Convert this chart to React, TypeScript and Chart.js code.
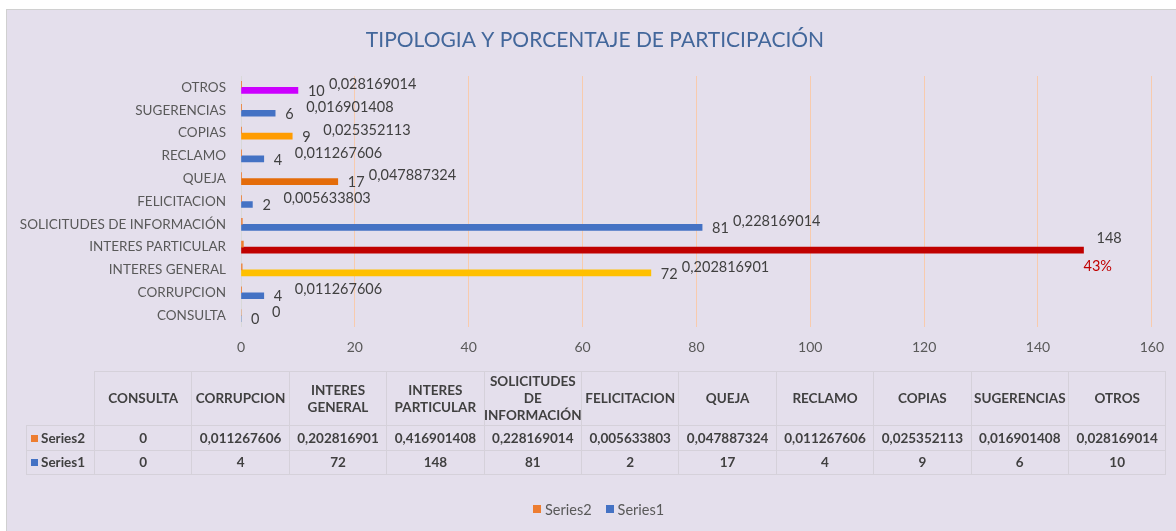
import React, { useEffect, useRef } from 'react';
import { Chart, registerables } from 'chart.js';

Chart.register(...registerables);

const chartTitle = 'TIPOLOGIA Y PORCENTAJE DE PARTICIPACIÓN';
const categories = [
  'CONSULTA',
  'CORRUPCION',
  'INTERES GENERAL',
  'INTERES PARTICULAR',
  'SOLICITUDES DE INFORMACIÓN',
  'FELICITACION',
  'QUEJA',
  'RECLAMO',
  'COPIAS',
  'SUGERENCIAS',
  'OTROS',
];
const tableHeaders = [
  ['CONSULTA'],
  ['CORRUPCION'],
  ['INTERES', 'GENERAL'],
  ['INTERES', 'PARTICULAR'],
  ['SOLICITUDES', 'DE', 'INFORMACIÓN'],
  ['FELICITACION'],
  ['QUEJA'],
  ['RECLAMO'],
  ['COPIAS'],
  ['SUGERENCIAS'],
  ['OTROS'],
];
const series1Name = 'Series1';
const series2Name = 'Series2';
const series1 = [0, 4, 72, 148, 81, 2, 17, 4, 9, 6, 10];
const series2 = [
  0, 0.011267606, 0.202816901, 0.416901408, 0.228169014, 0.005633803,
  0.047887324, 0.011267606, 0.025352113, 0.016901408, 0.028169014,
];
const xMin = 0;
const xMax = 160;
const xStep = 20;
const highlightIndex = 3;
const highlightText = '43%';

const BLUE = '#4472C4';
const ORANGE = '#ED7D31';
const series1Colors = [
  BLUE, BLUE, '#FFC000', '#C00000', BLUE, BLUE, '#E46C0A', BLUE, '#FF9C00', BLUE, '#CC00FF',
];

const FONT = 'Lato, "Open Sans", sans-serif';
const fmt = (v: number) => String(v).replace('.', ',');

const labelsPlugin = {
  id: 'customLabels',
  afterDraw(chart: any) {
    const ctx = chart.ctx;
    const m0 = chart.getDatasetMeta(0);
    const m1 = chart.getDatasetMeta(1);
    ctx.save();
    // title
    ctx.font = `21px ${FONT}`;
    ctx.fillStyle = '#43679B';
    ctx.textAlign = 'center';
    ctx.textBaseline = 'middle';
    ctx.fillText(chartTitle, 595, 40);

    ctx.font = `14.5px ${FONT}`;
    ctx.textAlign = 'left';
    ctx.textBaseline = 'middle';
    for (let i = 0; i < categories.length; i++) {
      const b1 = m1.data[i];
      const b0 = m0.data[i];
      if (i === highlightIndex) {
        ctx.fillStyle = '#404040';
        ctx.fillText(String(series1[i]), b1.x + 13, b1.y - 12);
        ctx.fillStyle = '#C00000';
        ctx.fillText(highlightText, b1.x, b1.y + 16);
        continue;
      }
      ctx.fillStyle = '#404040';
      ctx.fillText(String(series1[i]), b1.x + 10, b1.y + 1);
      ctx.fillText(fmt(series2[i]), b1.x + 31, b0.y);
    }
    ctx.restore();
  },
};

export default function App() {
  const ref = useRef<HTMLCanvasElement | null>(null);

  useEffect(() => {
    if (!ref.current) return;
    const chart = new Chart(ref.current, {
      type: 'bar',
      data: {
        labels: categories,
        datasets: [
          { label: series2Name, data: series2, backgroundColor: ORANGE, barThickness: 6 },
          { label: series1Name, data: series1, backgroundColor: series1Colors, barThickness: 6 },
        ],
      },
      options: {
        indexAxis: 'y',
        responsive: false,
        animation: false,
        layout: { padding: { top: 76, right: 23, bottom: 164, left: 0 } },
        plugins: { legend: { display: false }, tooltip: { enabled: false }, title: { display: false } },
        scales: {
          x: {
            min: xMin,
            max: xMax,
            ticks: { stepSize: xStep, color: '#595959', font: { family: FONT, size: 14 }, padding: 12 },
            grid: {
              color: (c: any) => (c.tick && c.tick.value === 0 ? '#D9D9D9' : '#F8CBAD'),
              drawTicks: false,
            },
            border: { display: false },
            afterFit: (s: any) => {
              s.height = 40;
            },
          },
          y: {
            reverse: true,
            grid: { display: false, drawTicks: false },
            border: { display: false },
            ticks: { color: '#595959', font: { family: FONT, size: 13.5 }, padding: 15 },
            afterFit: (s: any) => {
              s.width = 241;
            },
          },
        },
      } as any,
      plugins: [labelsPlugin],
    });
    return () => chart.destroy();
  }, []);

  const colW = 97.4;
  const firstW = 68;
  const tableLeft = 26;
  const tableTop = 371;
  const rowH = [54, 25, 24];
  const border = '1px solid #D5D1DA';
  const cellBase: React.CSSProperties = {
    position: 'absolute',
    boxSizing: 'border-box',
    display: 'flex',
    alignItems: 'center',
    justifyContent: 'center',
    textAlign: 'center',
    fontFamily: FONT,
    fontWeight: 700,
    fontSize: 13.5,
    lineHeight: '17px',
    color: '#404040',
  };
  const cells: React.ReactNode[] = [];
  const rowTops = [tableTop, tableTop + rowH[0], tableTop + rowH[0] + rowH[1]];
  tableHeaders.forEach((h, i) => {
    cells.push(
      <div
        key={'h' + i}
        style={{
          ...cellBase,
          left: tableLeft + firstW + i * colW,
          top: rowTops[0],
          width: colW + 1,
          height: rowH[0] + 1,
          border,
          flexDirection: 'column',
        }}
      >
        {h.map((t, k) => (
          <span key={k}>{t}</span>
        ))}
      </div>
    );
  });
  const rows = [
    { name: series2Name, color: ORANGE, vals: series2.map(fmt) },
    { name: series1Name, color: BLUE, vals: series1.map((v) => String(v)) },
  ];
  rows.forEach((r, ri) => {
    const top = rowTops[ri + 1];
    cells.push(
      <div
        key={'n' + ri}
        style={{
          ...cellBase,
          left: tableLeft,
          top,
          width: firstW + 1,
          height: rowH[ri + 1] + 1,
          border,
          justifyContent: 'flex-start',
          paddingLeft: 4,
        }}
      >
        <span style={{ display: 'inline-block', width: 7, height: 7, background: r.color, marginRight: 3 }} />
        {r.name}
      </div>
    );
    r.vals.forEach((v, i) => {
      cells.push(
        <div
          key={'v' + ri + '-' + i}
          style={{
            ...cellBase,
            left: tableLeft + firstW + i * colW,
            top,
            width: colW + 1,
            height: rowH[ri + 1] + 1,
            border,
          }}
        >
          {v}
        </div>
      );
    });
  });

  return (
    <div style={{ position: 'fixed', left: 0, top: 0, width: 1176, height: 531, background: '#fff', overflow: 'hidden' }}>
      <div
        style={{
          position: 'absolute',
          left: 6,
          top: 9,
          width: 1170,
          height: 522,
          background: '#E4DFEC',
          borderTop: '1px solid #D0D0D0',
          borderLeft: '1px solid #D0D0D0',
          boxSizing: 'border-box',
        }}
      />
      <canvas ref={ref} width={1176} height={531} style={{ position: 'absolute', left: 0, top: 0, width: 1176, height: 531 }} />
      {cells}
      <div
        style={{
          position: 'absolute',
          left: 533,
          top: 500,
          height: 18,
          display: 'flex',
          alignItems: 'center',
          fontFamily: FONT,
          fontSize: 14.5,
          color: '#595959',
          whiteSpace: 'nowrap',
        }}
      >
        <span style={{ display: 'inline-block', width: 8, height: 8, background: ORANGE, marginRight: 4 }} />
        <span>{series2Name}</span>
        <span style={{ display: 'inline-block', width: 8, height: 8, background: BLUE, marginLeft: 14, marginRight: 4 }} />
        <span>{series1Name}</span>
      </div>
    </div>
  );
}
